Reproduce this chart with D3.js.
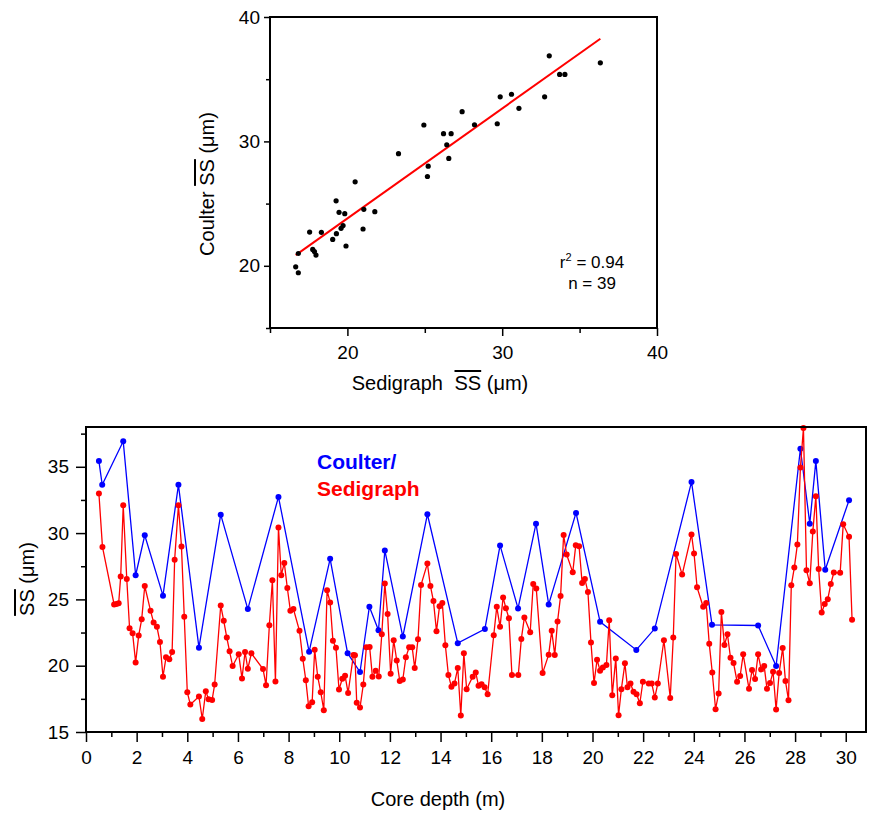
<!DOCTYPE html>
<html>
<head>
<meta charset="utf-8">
<script src="https://cdn.jsdelivr.net/npm/d3@7"></script>
<style>
body { margin: 0; background: #fff; }
text { font-family: "Liberation Sans", Arial, sans-serif; fill: #000; }
.axis text { font-size: 19px; font-family: "Liberation Sans", Arial, sans-serif; }
.axis line { stroke: #000; stroke-width: 1.5; }
.ovl { text-decoration: overline; }
</style>
</head>
<body>
<div id="chart"></div>
<script>
// scatter: Sedigraph vs Coulter mean size (um), n = 39
const scatSedi = [16.66, 16.83, 16.83, 17.56, 17.76, 17.87, 17.97, 18.32, 19.05, 19.27,
  19.29, 19.46, 19.59, 19.72, 19.83, 19.91, 20.50, 21.01, 21.06, 21.77,
  23.30, 24.94, 25.17, 25.22, 26.21, 26.42, 26.55, 26.70, 27.41, 28.21,
  29.68, 29.87, 30.60, 31.08, 32.74, 33.04, 33.71, 34.05, 36.34];
const scatCoulter = [19.92, 19.44, 20.99, 22.71, 21.32, 21.15, 20.86, 22.69, 22.12, 25.22,
  22.58, 24.30, 23.01, 23.23, 24.19, 21.59, 26.75, 22.96, 24.54, 24.35,
  29.01, 31.32, 27.18, 28.01, 30.62, 29.73, 28.63, 30.62, 32.39, 31.34,
  31.42, 33.58, 33.79, 32.66, 33.58, 36.88, 35.38, 35.38, 36.32];
// fitted line as printed on the figure
const fitSlope = 0.8836, fitIntercept = 6.14;
const fitR2 = "0.94", fitN = 39;

// down-core profiles
const coulterDepth = [0.51, 0.64, 1.47, 1.96, 2.32, 3.04, 3.65, 4.46, 5.32, 6.39,
  7.60, 8.81, 9.64, 10.33, 10.82, 11.19, 11.55, 11.80, 12.51, 13.48,
  14.68, 15.75, 16.35, 17.06, 17.77, 18.27, 19.35, 20.30, 21.73, 22.46,
  23.91, 24.72, 26.54, 27.25, 28.21, 28.58, 28.82, 29.19, 30.13];
const coulterSS = [35.43, 33.64, 36.92, 26.82, 29.83, 25.28, 33.64, 21.36, 31.39, 24.27,
  32.73, 21.06, 28.06, 20.94, 19.52, 24.45, 22.68, 28.69, 22.20, 31.42,
  21.70, 22.76, 29.07, 24.32, 30.71, 24.62, 31.52, 23.31, 21.19, 22.80,
  33.86, 23.08, 23.03, 19.98, 36.36, 30.71, 35.43, 27.23, 32.48];

const sediDepth = [0.51, 0.65, 1.11, 1.20, 1.29, 1.37, 1.47, 1.61, 1.72, 1.84,
  1.96, 2.08, 2.20, 2.32, 2.55, 2.67, 2.80, 2.92, 3.04, 3.16,
  3.29, 3.40, 3.50, 3.65, 3.77, 3.88, 4.00, 4.12, 4.46, 4.59,
  4.73, 4.84, 4.98, 5.08, 5.32, 5.44, 5.56, 5.67, 5.79, 6.03,
  6.16, 6.28, 6.39, 6.53, 6.99, 7.11, 7.24, 7.36, 7.48, 7.60,
  7.71, 7.83, 7.95, 8.07, 8.19, 8.43, 8.56, 8.68, 8.79, 8.93,
  9.03, 9.15, 9.27, 9.39, 9.52, 9.64, 9.75, 9.87, 9.99, 10.12,
  10.23, 10.35, 10.56, 10.62, 10.69, 10.82, 10.95, 11.07, 11.20, 11.31,
  11.44, 11.56, 11.68, 11.80, 11.91, 12.03, 12.15, 12.27, 12.39, 12.51,
  12.63, 12.76, 12.88, 12.98, 13.11, 13.23, 13.48, 13.60, 13.72, 13.84,
  13.96, 14.07, 14.19, 14.31, 14.43, 14.55, 14.68, 14.80, 14.92, 15.03,
  15.27, 15.39, 15.50, 15.62, 15.74, 15.86, 16.10, 16.22, 16.35, 16.47,
  16.58, 16.70, 16.82, 17.07, 17.19, 17.31, 17.54, 17.66, 17.78, 18.03,
  18.27, 18.39, 18.51, 18.62, 18.74, 18.86, 18.98, 19.22, 19.34, 19.47,
  19.59, 19.70, 19.82, 19.94, 20.06, 20.18, 20.30, 20.41, 20.55, 20.66,
  20.78, 20.92, 21.03, 21.14, 21.28, 21.38, 21.50, 21.62, 21.74, 21.87,
  21.99, 22.22, 22.34, 22.46, 22.58, 22.82, 23.07, 23.19, 23.30, 23.54,
  23.91, 24.01, 24.13, 24.37, 24.49, 24.61, 24.73, 24.86, 24.98, 25.09,
  25.21, 25.33, 25.45, 25.57, 25.71, 25.83, 25.95, 26.18, 26.30, 26.42,
  26.54, 26.66, 26.78, 26.89, 27.01, 27.13, 27.25, 27.37, 27.51, 27.62,
  27.74, 27.85, 27.97, 28.09, 28.21, 28.33, 28.45, 28.58, 28.70, 28.82,
  28.93, 29.05, 29.17, 29.29, 29.41, 29.53, 29.78, 29.90, 30.13, 30.25];
const sediSS = [32.98, 28.96, 24.62, 24.65, 24.70, 26.72, 32.09, 26.54, 22.83, 22.45,
  20.25, 22.27, 23.51, 26.01, 24.14, 23.26, 22.93, 21.79, 19.17, 20.63,
  20.48, 21.03, 27.98, 32.09, 28.99, 23.69, 18.00, 17.07, 17.68, 15.98,
  18.08, 17.47, 17.42, 18.58, 24.54, 23.38, 22.12, 21.08, 19.97, 20.86,
  19.04, 21.03, 19.77, 20.93, 19.75, 18.53, 23.05, 26.44, 18.81, 30.43,
  26.82, 27.75, 25.86, 24.14, 24.27, 22.63, 20.53, 18.91, 16.94, 17.25,
  21.21, 19.17, 18.00, 16.64, 25.68, 24.77, 21.89, 21.36, 18.21, 19.01,
  19.24, 17.95, 20.81, 20.78, 17.20, 16.84, 18.58, 21.39, 21.41, 19.17,
  19.62, 19.19, 22.37, 26.19, 23.89, 19.39, 21.92, 20.40, 18.84, 18.96,
  20.63, 21.39, 21.39, 19.82, 21.99, 26.09, 27.70, 26.01, 24.87, 22.60,
  24.49, 24.72, 21.54, 19.29, 18.41, 18.66, 19.82, 16.24, 20.93, 18.23,
  19.17, 19.49, 18.48, 18.61, 18.38, 17.85, 22.30, 24.44, 22.93, 25.15,
  24.34, 23.58, 19.29, 19.29, 22.02, 23.63, 22.52, 26.16, 25.83, 19.44,
  20.83, 22.63, 20.81, 23.33, 25.25, 29.85, 28.38, 27.04, 29.09, 29.01,
  26.24, 26.54, 25.55, 21.74, 18.69, 20.45, 19.62, 19.87, 20.05, 23.43,
  17.78, 20.55, 16.26, 18.23, 20.18, 18.38, 18.66, 18.03, 17.85, 17.17,
  18.79, 18.66, 18.66, 17.60, 18.66, 21.92, 17.57, 22.12, 28.43, 26.87,
  29.90, 28.46, 25.91, 24.44, 24.72, 21.66, 19.49, 16.72, 17.90, 24.04,
  21.56, 22.37, 20.60, 20.20, 18.79, 19.22, 20.86, 18.26, 19.67, 18.99,
  20.86, 19.72, 19.97, 18.26, 18.69, 19.54, 16.69, 19.44, 21.34, 18.84,
  17.40, 26.06, 27.40, 29.14, 34.95, 37.93, 27.20, 26.21, 30.12, 32.78,
  27.30, 24.01, 24.65, 25.02, 26.16, 27.02, 27.00, 30.66, 29.72, 23.46];

const svg = d3.select("#chart").append("svg")
  .attr("width", 870).attr("height", 815);
svg.append("rect").attr("width", 870).attr("height", 815).attr("fill", "#fff");

// axis with long labelled ticks and short unlabelled ones
function addAxis(orient, scale, pos, majors, minors, majLen, minLen, pad) {
  const mk = orient === "bottom" ? d3.axisBottom : d3.axisLeft;
  const tr = orient === "bottom" ? `translate(0,${pos})` : `translate(${pos},0)`;
  svg.append("g").attr("class", "axis").attr("transform", tr)
    .call(mk(scale).tickValues(minors).tickSize(minLen).tickFormat(""))
    .call(g => g.select(".domain").remove());
  svg.append("g").attr("class", "axis").attr("transform", tr)
    .call(mk(scale).tickValues(majors).tickSize(majLen).tickPadding(pad).tickFormat(d3.format("d")))
    .call(g => g.select(".domain").remove());
}

function frame(x0, y0, x1, y1) {
  svg.append("rect").attr("x", x0).attr("y", y0)
    .attr("width", x1 - x0).attr("height", y1 - y0)
    .attr("fill", "none").attr("stroke", "#000").attr("stroke-width", 2);
}

// ---------- top: scatter plot
const sx = d3.scaleLinear().domain([15, 40]).range([270, 657]);
const sy = d3.scaleLinear().domain([15, 40]).range([328, 17]);

addAxis("bottom", sx, 328, [20, 30, 40], [15, 25, 35], 8, 5, 10);
addAxis("left", sy, 270, [20, 30, 40], [15, 25, 35], 6, 4, 4);

const ext = d3.extent(scatSedi);
svg.append("line")
  .attr("x1", sx(ext[0])).attr("y1", sy(fitIntercept + fitSlope * ext[0]))
  .attr("x2", sx(ext[1])).attr("y2", sy(fitIntercept + fitSlope * ext[1]))
  .attr("stroke", "#ff0000").attr("stroke-width", 2);

svg.append("g").selectAll("circle").data(scatSedi).enter().append("circle")
  .attr("cx", d => sx(d))
  .attr("cy", (d, i) => sy(scatCoulter[i]))
  .attr("r", 2.6).attr("fill", "#000");

frame(270, 17, 657, 328);

const stat = svg.append("text").attr("x", 592).attr("y", 268)
  .attr("text-anchor", "middle").style("font-size", "17px");
stat.append("tspan").text("r");
stat.append("tspan").attr("dy", -7).style("font-size", "11px").text("2");
stat.append("tspan").attr("dy", 7).text(" = " + fitR2);
svg.append("text").attr("x", 592).attr("y", 289)
  .attr("text-anchor", "middle").style("font-size", "17px").text("n = " + fitN);

const tx = svg.append("text").attr("x", 440).attr("y", 390)
  .attr("text-anchor", "middle").style("font-size", "20px");
tx.append("tspan").text("Sedigraph ");
tx.append("tspan").attr("class", "ovl").attr("dx", 6).text("SS");
tx.append("tspan").text(" (\u03bcm)");

const ty = svg.append("text").attr("transform", "translate(214,184) rotate(-90)")
  .attr("text-anchor", "middle").style("font-size", "20px");
ty.append("tspan").text("Coulter ");
ty.append("tspan").attr("class", "ovl").text("SS");
ty.append("tspan").text(" (\u03bcm)");

// ---------- bottom: down-core profiles
const px = d3.scaleLinear().domain([0, 30.8]).range([86, 866]);
const py = d3.scaleLinear().domain([15, 38]).range([732, 427]);

addAxis("bottom", px, 732, d3.range(0, 31, 2), d3.range(1, 31, 2), 10, 5, 9);
addAxis("left", py, 86, [15, 20, 25, 30, 35], [17.5, 22.5, 27.5, 32.5, 37.5], 10, 5, 7);

function series(depth, vals, color) {
  const pts = depth.map((d, i) => [d, vals[i]]);
  svg.append("path").datum(pts)
    .attr("d", d3.line().x(d => px(d[0])).y(d => py(d[1])))
    .attr("fill", "none").attr("stroke", color).attr("stroke-width", 1.3);
  svg.append("g").selectAll("circle").data(pts).enter().append("circle")
    .attr("cx", d => px(d[0])).attr("cy", d => py(d[1]))
    .attr("r", 3).attr("fill", color);
}
series(coulterDepth, coulterSS, "#0000ff");
series(sediDepth, sediSS, "#ff0000");

frame(86, 427, 866, 732);

svg.append("text").attr("x", 317).attr("y", 469)
  .style("font-size", "21px").style("font-weight", "bold").style("fill", "#0000ff")
  .text("Coulter/");
svg.append("text").attr("x", 317).attr("y", 496)
  .style("font-size", "21px").style("font-weight", "bold").style("fill", "#ff0000")
  .text("Sedigraph");

svg.append("text").attr("x", 438).attr("y", 806)
  .attr("text-anchor", "middle").style("font-size", "20px").text("Core depth (m)");

const by = svg.append("text").attr("transform", "translate(34,579) rotate(-90)")
  .attr("text-anchor", "middle").style("font-size", "20px");
by.append("tspan").attr("class", "ovl").text("SS");
by.append("tspan").text(" (\u03bcm)");
</script>
</body>
</html>
